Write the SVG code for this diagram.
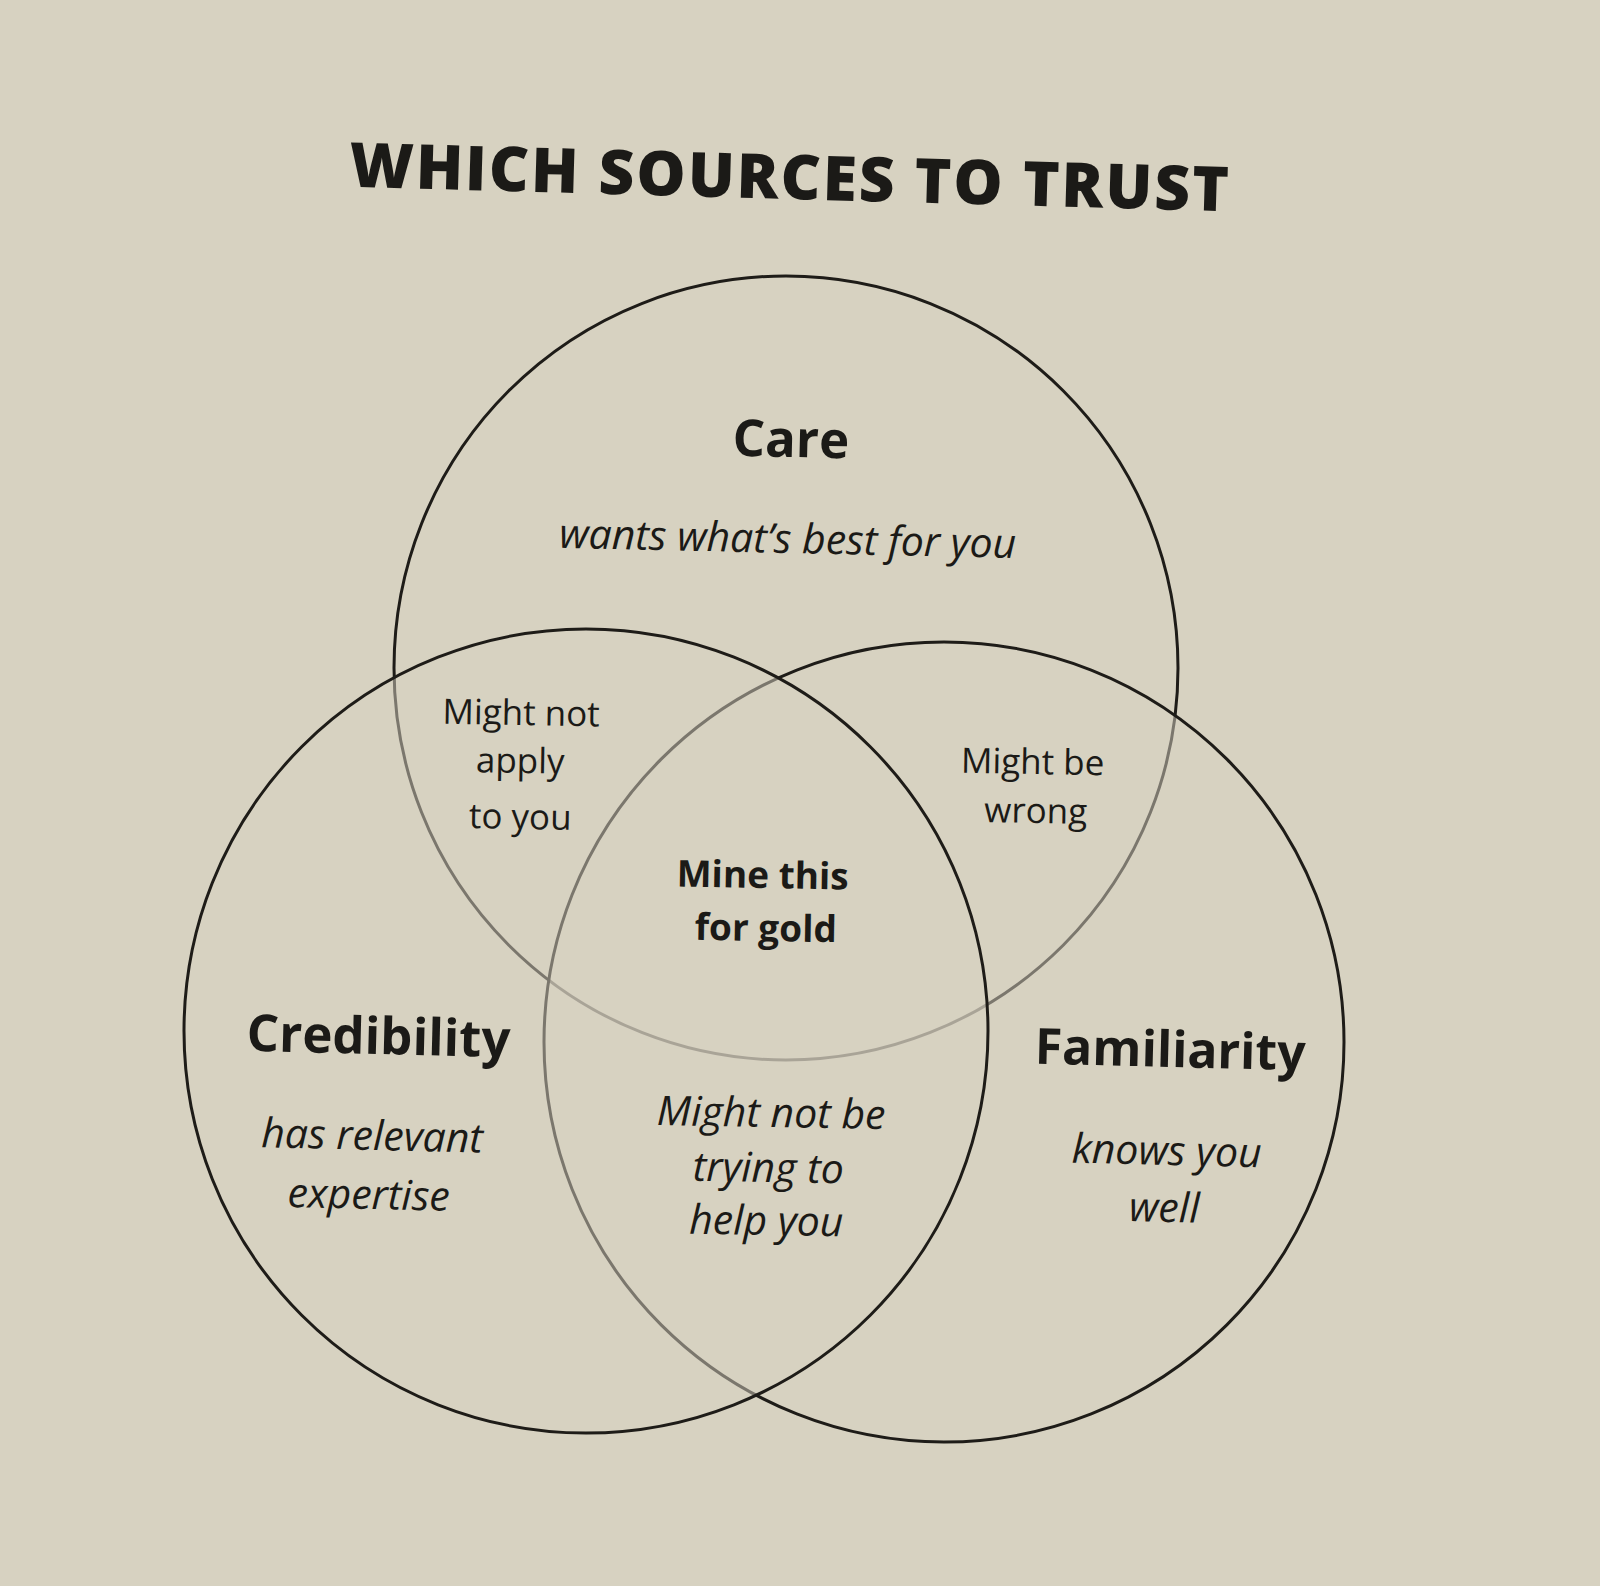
<svg xmlns="http://www.w3.org/2000/svg" width="1600" height="1586" viewBox="0 0 1600 1586">
<defs>
<style>
.circ{fill:#d7d2c1;fill-opacity:0.5;stroke:#1e1c18;stroke-width:3}
.t{font-family:"Open Sans","Noto Sans","Liberation Sans",sans-serif;fill:#1b1a17;text-anchor:middle}
.title{font-weight:800;font-size:62px;letter-spacing:2px}
.h{font-weight:700;font-size:51px}
.i{font-style:italic;font-weight:500;font-size:41px}
.r{font-size:35px}
.b{font-weight:700;font-size:37px}
</style>
</defs>
<rect width="1600" height="1586" fill="#d7d2c1"/>
<g id="title" transform="rotate(1.6 790 177)">
<text class="t title" x="790" y="199">WHICH SOURCES TO TRUST</text>
</g>
<g id="care">
<circle class="circ" cx="786" cy="668" r="392"/>
<g transform="rotate(1.3 791 440)">
<text class="t h" x="791" y="457">Care</text>
<text class="t i" x="790" y="553">wants what’s best for you</text>
</g>
</g>
<g id="familiarity">
<circle class="circ" cx="944" cy="1042" r="400"/>
<g transform="rotate(1.4 1169 1100)">
<text class="t h" x="1169" y="1067" style="font-size:50px">Familiarity</text>
<text class="t i" x="1168" y="1165">knows you</text>
<text class="t i" x="1167" y="1222">well</text>
</g>
</g>
<g id="credibility">
<circle class="circ" cx="586" cy="1031" r="402"/>
<g transform="rotate(1.4 375 1100)">
<text class="t h" x="377" y="1054">Credibility</text>
<text class="t i" x="373" y="1150">has relevant</text>
<text class="t i" x="371" y="1209">expertise</text>
</g>
</g>
<g id="care-credibility" transform="rotate(1 520 775)">
<text class="t r" x="520" y="725">Might not</text>
<text class="t r" x="520" y="773">apply</text>
<text class="t r" x="521" y="829">to you</text>
</g>
<g id="care-familiarity" transform="rotate(1 1034 800)">
<text class="t r" x="1032" y="774">Might be</text>
<text class="t r" x="1036" y="823">wrong</text>
</g>
<g id="all-three" transform="rotate(1 764 915)">
<text class="t b" x="762" y="888">Mine this</text>
<text class="t b" x="766" y="941">for gold</text>
</g>
<g id="credibility-familiarity" transform="rotate(1 768 1180)">
<text class="t i" x="770" y="1127">Might not be</text>
<text class="t i" x="768" y="1182">trying to</text>
<text class="t i" x="767" y="1235">help you</text>
</g>
<g id="connectors"></g>
</svg>
